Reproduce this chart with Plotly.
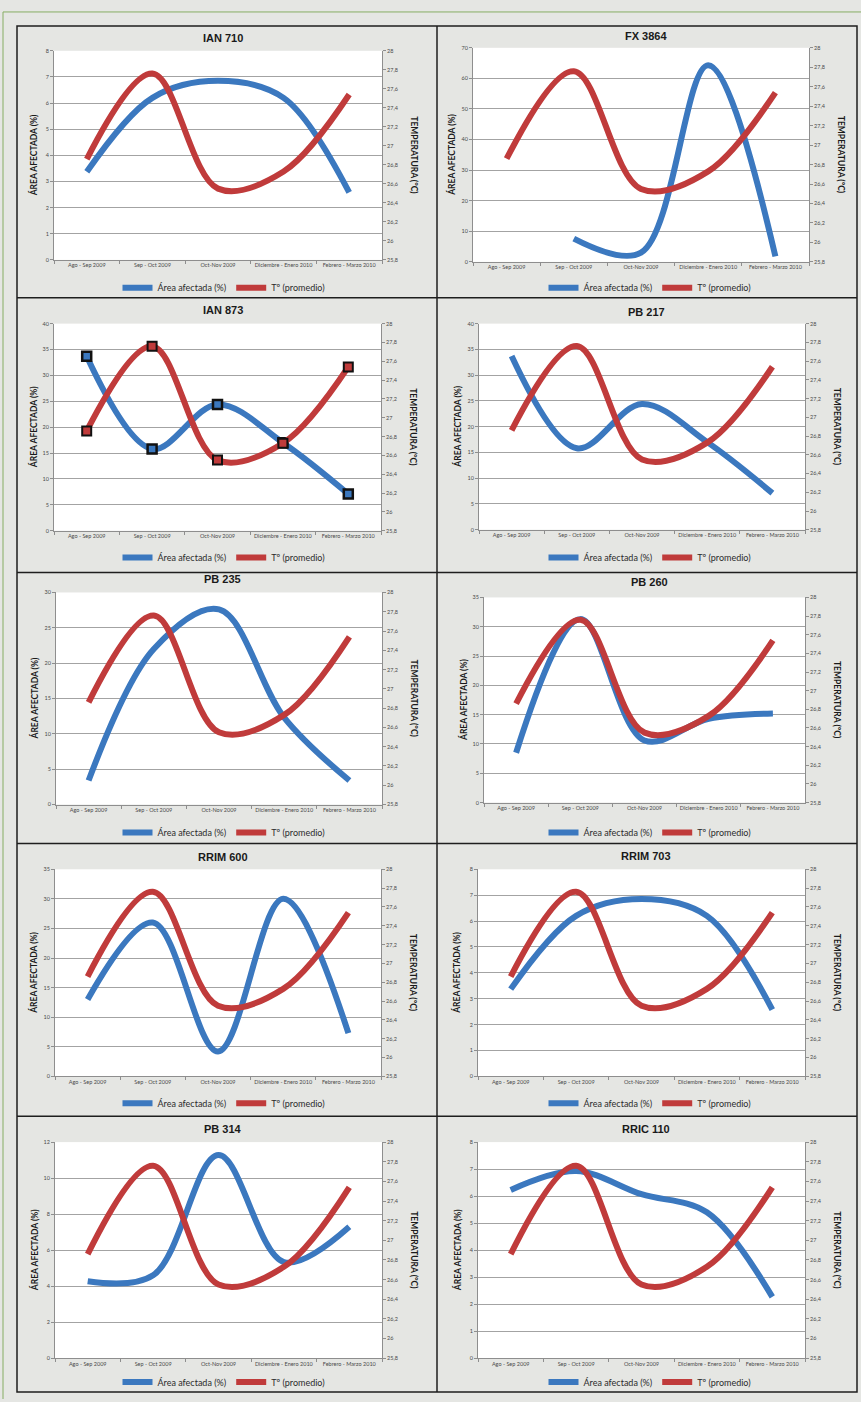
import plotly.graph_objects as go

# ---------------------------------------------------------------- data
MESES = ["Ago - Sep 2009", "Sep - Oct 2009", "Oct-Nov 2009",
         "Diciembre - Enero 2010", "Febrero - Marzo 2010"]

# average temperature (°C) for each period, shared by every clone
TEMP_PROMEDIO = [26.86, 27.76, 26.55, 26.73, 27.54]

# affected area (%) per clone
IAN_710 = [3.37, 6.2, 6.85, 6.2, 2.58]
FX_3864 = [None, 7.6, 3.0, 64.3, 1.8]
IAN_873 = [33.7, 15.8, 24.4, 17.0, 7.1]
PB_217 = [33.7, 15.8, 24.4, 17.0, 7.1]
PB_235 = [3.4, 22.0, 27.6, 12.3, 3.4]
PB_260 = [8.5, 31.3, 10.6, 14.3, 15.2]
RRIM_600 = [13.0, 26.0, 4.2, 30.0, 7.3]
RRIM_703 = [3.37, 6.2, 6.85, 6.2, 2.58]
PB_314 = [4.27, 4.6, 11.28, 5.34, 7.3]
RRIC_110 = [6.23, 6.93, 6.07, 5.4, 2.27]

CLONES = ["IAN 710", "FX 3864", "IAN 873", "PB 217", "PB 235",
          "PB 260", "RRIM 600", "RRIM 703", "PB 314", "RRIC 110"]
AREAS = [IAN_710, FX_3864, IAN_873, PB_217, PB_235,
         PB_260, RRIM_600, RRIM_703, PB_314, RRIC_110]
AREA_MAX = [8, 70, 40, 40, 30, 35, 35, 8, 12, 8]
AREA_STEP = [1, 10, 5, 5, 5, 5, 5, 1, 2, 1]

TEMP_TICKS = [25.8, 26.0, 26.2, 26.4, 26.6, 26.8, 27.0, 27.2, 27.4, 27.6, 27.8, 28.0]
TEMP_LABELS = ["25,8", "26", "26,2", "26,4", "26,6", "26,8", "27",
               "27,2", "27,4", "27,6", "27,8", "28"]

# ---------------------------------------------------------------- layout geometry (pixels)
W, H = 861, 1402
# plot area (left, right, top, bottom) of each panel
PLOT_BOX = [(54, 382, 48, 258), (473, 809, 45, 260),
            (54, 381, 322, 530), (479, 805, 322, 529),
            (56, 382, 592, 805), (484, 805, 597, 803),
            (55, 381, 870, 1078), (478, 805, 870, 1078),
            (55, 382, 1144, 1361), (478, 805, 1144, 1361)]
TITLE_POS = [(223, 35), (646, 33), (223, 308), (646, 310), (223, 578),
             (649, 581), (223, 858), (646, 857), (223, 1131), (646, 1131)]
LEGEND_POS = [(224, 286), (650, 286), (224, 557), (650, 557), (224, 833),
              (650, 833), (224, 1105), (650, 1105), (224, 1385), (650, 1385)]
MARKED = {"IAN 873"}

BLUE = "#3b78bf"
RED = "#c03b3b"
GRID = "#a3a3a3"
AXIS = "#8e8e8e"
TICK_FONT = dict(family="Lato, sans-serif", size=5.5, color="#4a4a4a")
LINE_W = 6


def fx(x):
    return x / W


def fy(y):
    return 1 - y / H


fig = go.Figure()
layout = dict(
    width=W, height=H, margin=dict(l=0, r=0, t=0, b=0),
    paper_bgcolor="#e5e6e3", plot_bgcolor="#ffffff",
    showlegend=True, separators=", ",
)
annotations = []
shapes = []

for i, (clone, area) in enumerate(zip(CLONES, AREAS)):
    l, r, t, b = PLOT_BOX[i]
    xid = "x" if i == 0 else f"x{i + 1}"
    yl = "y" if i == 0 else f"y{2 * i + 1}"
    yr = f"y{2 * i + 2}"
    leg = "legend" if i == 0 else f"legend{i + 1}"

    fig.add_trace(go.Scatter(
        x=MESES, y=area, name="Área afectada (%)", mode="lines",
        line=dict(color=BLUE, width=LINE_W, shape="spline", smoothing=1),
        xaxis=xid, yaxis=yl, legend=leg, hoverinfo="skip"))
    fig.add_trace(go.Scatter(
        x=MESES, y=TEMP_PROMEDIO, name="Tº (promedio)", mode="lines",
        line=dict(color=RED, width=LINE_W, shape="spline", smoothing=1),
        xaxis=xid, yaxis=yr, legend=leg, hoverinfo="skip"))
    if clone in MARKED:
        fig.add_trace(go.Scatter(
            x=MESES, y=area, mode="markers", showlegend=False,
            marker=dict(symbol="square", size=9, color=BLUE,
                        line=dict(color="#111111", width=2.5)),
            xaxis=xid, yaxis=yl, hoverinfo="skip"))
        fig.add_trace(go.Scatter(
            x=MESES, y=TEMP_PROMEDIO, mode="markers", showlegend=False,
            marker=dict(symbol="square", size=9, color=RED,
                        line=dict(color="#111111", width=2)),
            xaxis=xid, yaxis=yr, hoverinfo="skip"))

    xkey = "xaxis" if i == 0 else f"xaxis{i + 1}"
    ylkey = "yaxis" if i == 0 else f"yaxis{2 * i + 1}"
    yrkey = f"yaxis{2 * i + 2}"

    layout[xkey] = dict(
        domain=[fx(l), fx(r)], anchor=yl, type="category",
        range=[-0.5, 4.5], showgrid=False, zeroline=False,
        showline=True, linecolor=AXIS, linewidth=1,
        ticks="outside", ticklen=3, tickcolor=AXIS, tickson="boundaries",
        tickfont=TICK_FONT, tickangle=0, fixedrange=True)
    layout[ylkey] = dict(
        domain=[fy(b), fy(t)], anchor=xid,
        range=[0, AREA_MAX[i]], tick0=0, dtick=AREA_STEP[i],
        showgrid=True, gridcolor=GRID, gridwidth=1.3, zeroline=False,
        showline=True, linecolor=AXIS, linewidth=1,
        ticks="outside", ticklen=3, tickcolor=AXIS,
        tickfont=TICK_FONT, fixedrange=True)
    layout[yrkey] = dict(
        overlaying=yl, side="right", anchor=xid,
        range=[25.8, 28.0], tickmode="array",
        tickvals=TEMP_TICKS, ticktext=TEMP_LABELS,
        showgrid=False, zeroline=False,
        showline=True, linecolor=AXIS, linewidth=1,
        ticks="outside", ticklen=3, tickcolor=AXIS,
        tickfont=TICK_FONT, fixedrange=True)

    lx, ly = LEGEND_POS[i]
    layout[leg] = dict(
        orientation="h", x=fx(lx), y=fy(ly), xanchor="center", yanchor="middle",
        bgcolor="rgba(0,0,0,0)", borderwidth=0, itemwidth=30,
        font=dict(family="Lato, sans-serif", size=9, color="#2b2b2b"),
        itemclick=False, itemdoubleclick=False)

    tx, ty = TITLE_POS[i]
    annotations.append(dict(
        text=f"<b>{clone}</b>", x=fx(tx), y=fy(ty), xref="paper", yref="paper",
        showarrow=False, xanchor="center", yanchor="middle",
        font=dict(family="Liberation Sans, Arial, sans-serif", size=11, color="#1a1a1a")))
    annotations.append(dict(
        text="<b>ÁREA AFECTADA (%)</b>", x=fx(l - 21), y=fy((t + b) / 2),
        xref="paper", yref="paper", showarrow=False, textangle=-90,
        xanchor="center", yanchor="middle",
        font=dict(family="Lato, sans-serif", size=8.5, color="#1a1a1a")))
    annotations.append(dict(
        text="<b>TEMPERATURA (°C)</b>", x=fx(r + 32), y=fy((t + b) / 2),
        xref="paper", yref="paper", showarrow=False, textangle=90,
        xanchor="center", yanchor="middle",
        font=dict(family="Lato, sans-serif", size=8.5, color="#1a1a1a")))

# panel frame
FRAME = dict(color="#1e1e1e", width=1.5)
shapes.append(dict(type="rect", xref="paper", yref="paper",
                   x0=fx(17), x1=fx(857), y0=fy(1395), y1=fy(23), line=FRAME))
shapes.append(dict(type="line", xref="paper", yref="paper",
                   x0=fx(437), x1=fx(437), y0=fy(1395), y1=fy(23), line=FRAME))
for yy in (296, 572, 844, 1118):
    shapes.append(dict(type="line", xref="paper", yref="paper",
                       x0=fx(17), x1=fx(857), y0=fy(yy), y1=fy(yy), line=FRAME))
# thin green page rule
GREEN = dict(color="#86ad63", width=1)
shapes.append(dict(type="line", xref="paper", yref="paper",
                   x0=fx(3), x1=1, y0=fy(9), y1=fy(9), line=GREEN))
shapes.append(dict(type="line", xref="paper", yref="paper",
                   x0=fx(3), x1=fx(3), y0=0, y1=fy(9), line=GREEN))

layout["annotations"] = annotations
layout["shapes"] = shapes
fig.update_layout(**layout)

fig.write_html("out.html")
